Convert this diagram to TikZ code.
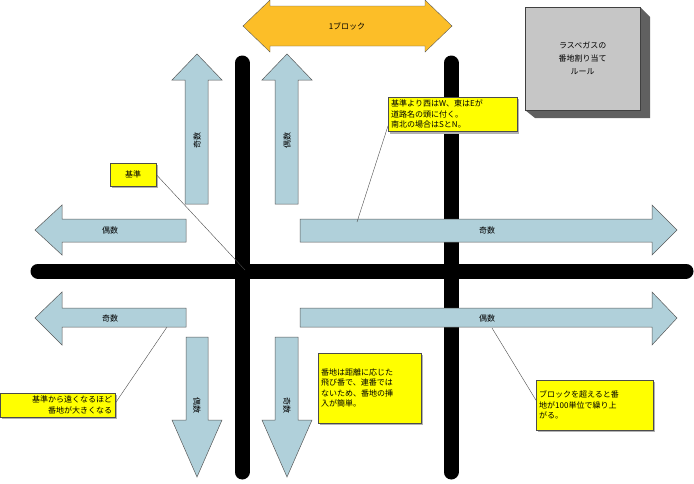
\documentclass[tikz,border=0pt]{standalone}
\usepackage{fontspec}
\setmainfont{Noto Sans CJK JP}
\usetikzlibrary{positioning,shadows}
\definecolor{arrowblue}{RGB}{176,208,218}
\definecolor{arrowgold}{RGB}{252,190,40}
\definecolor{notebg}{RGB}{255,255,0}
\begin{document}
\begin{tikzpicture}[x=1pt,y=-1pt,
  road/.style={line width=15pt, line cap=round},
  blk/.style={draw=gray!70!black, fill=arrowblue, line width=0.5pt},
  lbl/.style={font=\fontsize{8}{9}\selectfont},
  note/.style={draw=gray!60!black, fill=notebg, align=left, inner sep=3pt, font=\fontsize{8}{10.5}\selectfont,
    drop shadow={shadow xshift=2pt, shadow yshift=-2pt, fill=gray!60, opacity=1}},
  lead/.style={draw=gray!60!black, line width=0.4pt}]
\useasboundingbox (0,0) rectangle (694,483);

% roads
\draw[road] (242,63) -- (242,472);
\draw[road] (451,63) -- (451,472);
\draw[road] (38,271) -- (686,271);

% one block arrow
\draw[draw=gray!70!black, fill=arrowgold] (243,26) -- (270,0) -- (270,6) -- (425,6) -- (425,0) -- (452,26) -- (425,52) -- (425,46) -- (270,46) -- (270,52) -- cycle;
\node[lbl] (blk) at (347,26) {1ブロック};

% upward arrows
\draw[blk] (185,204) -- (185,80) -- (172,80) -- (197,54) -- (222,80) -- (208,80) -- (208,204) -- cycle;
\node[lbl, rotate=90] (nw) at (197,140) {奇数};
\draw[blk] (275,204) -- (275,80) -- (262,80) -- (287,54) -- (312,80) -- (298,80) -- (298,204) -- cycle;
\node[lbl, rotate=90] (ne) at (287,140) {偶数};

% downward arrows
\draw[blk] (186,337) -- (186,420) -- (172,420) -- (197,477) -- (222,420) -- (208,420) -- (208,337) -- cycle;
\node[lbl, rotate=-90] (sw) at (197,405) {偶数};
\draw[blk] (275,337) -- (275,420) -- (262,420) -- (287,477) -- (312,420) -- (298,420) -- (298,337) -- cycle;
\node[lbl, rotate=-90] (se) at (287,405) {奇数};

% left arrows
\draw[blk] (186,219) -- (62,219) -- (62,205) -- (35,230) -- (62,255) -- (62,242) -- (186,242) -- cycle;
\node[lbl] (wn) at (110,230) {偶数};
\draw[blk] (186,308) -- (62,308) -- (62,292) -- (35,318) -- (62,345) -- (62,327) -- (186,327) -- cycle;
\node[lbl] (ws) at (110,318) {奇数};

% right arrows
\draw[blk] (300,219) -- (652,219) -- (652,205) -- (677,230) -- (652,255) -- (652,242) -- (300,242) -- cycle;
\node[lbl] (en) at (487,230) {奇数};
\draw[blk] (300,308) -- (652,308) -- (652,292) -- (677,318) -- (652,345) -- (652,327) -- (300,327) -- cycle;
\node[lbl] (es) at (487,318) {偶数};

% title box
\fill[gray!75!black] (640,7) -- (650,17) -- (650,118) -- (535,118) -- (525,110) -- (640,110) -- cycle;
\node[draw=gray!50!black, fill=gray!45, minimum width=115pt, minimum height=103pt, anchor=north west, align=center, font=\fontsize{8}{13}\selectfont] (title) at (525,7) {ラスベガスの\\番地割り当て\\ルール};

% notes
\coordinate (origin) at (245,270);
\node[note, anchor=north west, minimum width=46pt, minimum height=23pt, align=center] (base) at (110,163) {基準};
\draw[lead] (base.east) -- (origin);

\node[note, anchor=north west, text width=123pt] (prefix) at (388,97) {基準より西はW、東はEが\\道路名の頭に付く。\\南北の場合はSとN。};
\coordinate (prefixend) at (357,222);
\draw[lead] (prefix.south west) ++(0,-6) -- (prefixend);

\node[note, anchor=north west, text width=109pt, align=right] (far) at (0,393) {基準から遠くなるほど\\番地が大きくなる};
\coordinate (farend) at (167,327);
\draw[lead] (far.north east) ++(0,10) -- (farend);

\node[note, anchor=north west, text width=97pt, minimum height=70pt] (skip) at (318,353) {番地は距離に応じた\\飛び番で、連番では\\ないため、番地の挿\\入が簡単。};

\node[note, anchor=north west, text width=111pt, minimum height=50pt] (hundred) at (536,380) {ブロックを超えると番\\地が100単位で繰り上\\がる。};
\coordinate (hundredend) at (492,328);
\draw[lead] (hundred.west) ++(0,-5) -- (hundredend);
\end{tikzpicture}
\end{document}
